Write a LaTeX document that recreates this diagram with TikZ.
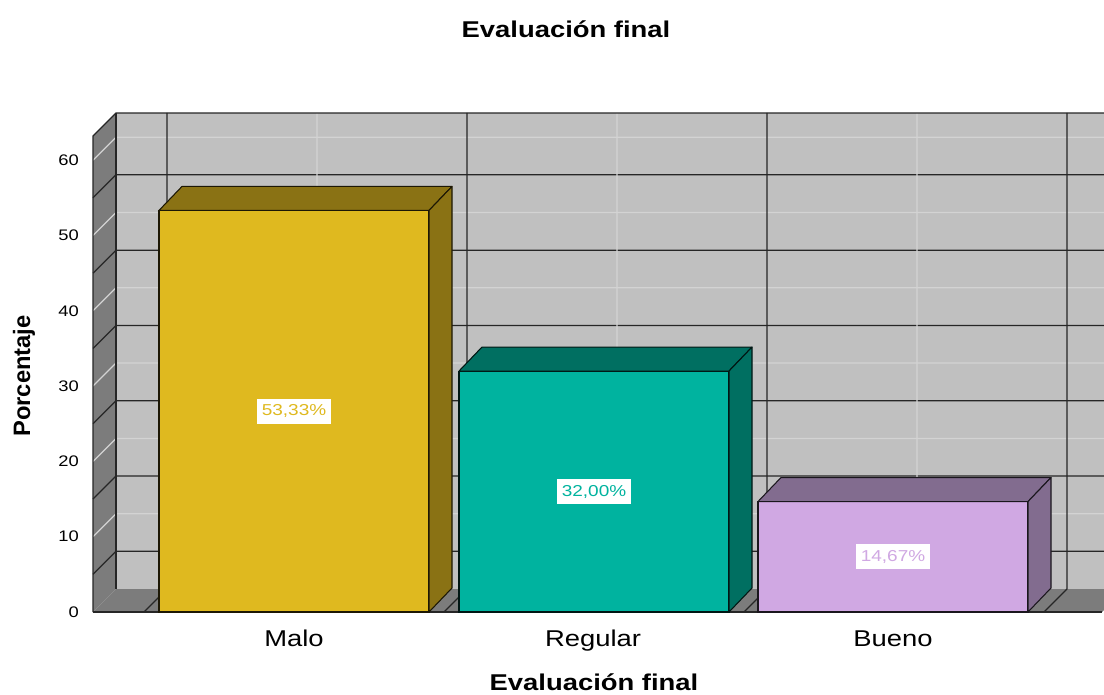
\documentclass[tikz,border=0pt]{standalone}
\usepackage{fontspec}
\setmainfont{Liberation Sans}[FakeStretch=1.2]
\newfontfamily\upfont{Liberation Sans}
\definecolor{backwall}{HTML}{C0C0C0}
\definecolor{sidewall}{HTML}{7C7C7C}
\definecolor{maloF}{HTML}{DFB91F}
\definecolor{maloD}{HTML}{8A7214}
\definecolor{regF}{HTML}{00B39F}
\definecolor{regD}{HTML}{006F61}
\definecolor{buenoF}{HTML}{D0A8E3}
\definecolor{buenoD}{HTML}{826C8F}
\tikzset{
  lightgrid/.style={draw=white!30!backwall, line width=0.7pt},
  darkgrid/.style={draw=black!85, line width=0.7pt},
  ticklabel/.style={anchor=east, font=\fontsize{8.7}{10}\selectfont},
  catlabel/.style={anchor=base, font=\fontsize{13}{15}\selectfont},
  axtitle/.style={font=\fontsize{13}{15}\selectfont\bfseries},
  vallabel/.style={fill=white, inner xsep=2.5pt, inner ysep=3.5pt, font=\fontsize{9}{11}\selectfont}
}
\begin{document}
\begin{tikzpicture}[x=0.02cm, y=-0.02cm]
  \useasboundingbox (0,0) rectangle (1104,695);
  \begin{scope}
    \clip (0,0) rectangle (1104,695);
    % walls and floor
    \fill[backwall] (116,113) rectangle (1125,589);
    \fill[sidewall] (93,136) -- (116,113) -- (116,589) -- (93,612) -- cycle;
    \fill[sidewall] (93,612) -- (116,589) -- (1125,589) -- (1102,612) -- cycle;
    % grid
    \foreach \v in {10,20,...,60} {
      \pgfmathsetmacro\yy{612-7.53*\v}
      \draw[lightgrid] (93,\yy) -- (116,\yy-23) -- (1125,\yy-23);
    }
    \foreach \v in {5,15,...,55} {
      \pgfmathsetmacro\yy{612-7.53*\v}
      \draw[darkgrid] (93,\yy) -- (116,\yy-23) -- (1125,\yy-23);
    }
    \foreach \x in {317,617,917}
      \draw[lightgrid] (\x,113) -- (\x,589) -- (\x-23,612);
    \foreach \x in {167,467,767,1067}
      \draw[darkgrid] (\x,113) -- (\x,589) -- (\x-23,612);
    \draw[black!85, line width=0.7pt] (93,612) -- (93,136) -- (116,113) -- (1125,113);
    \draw[black!85, line width=0.7pt] (116,113) -- (116,589);
    \draw[black!85, line width=0.7pt] (93,612) -- (1102,612);
    % bars
    \foreach \xl/\v/\fc/\dc/\lab/\n in {159/53.33/maloF/maloD/{53,33\%}/malo,
        459/32/regF/regD/{32,00\%}/regular,
        758/14.67/buenoF/buenoD/{14,67\%}/bueno} {
      \pgfmathsetmacro\yt{612-7.53*\v}
      \pgfmathsetmacro\xr{\xl+270}
      \filldraw[fill=\fc, draw=black!80!\dc, line width=0.6pt] (\xl,612) rectangle (\xr,\yt);
      \filldraw[fill=\dc, draw=black!80!\dc, line width=0.6pt, line join=round]
        (\xl,\yt) -- (\xl+23,\yt-24) -- (\xr+23,\yt-24) -- (\xr,\yt) -- cycle;
      \filldraw[fill=\dc, draw=black!80!\dc, line width=0.6pt, line join=round]
        (\xr,612) -- (\xr,\yt) -- (\xr+23,\yt-24) -- (\xr+23,588) -- cycle;
      \node[vallabel, text=\fc] (val\n) at (\xl+135,{(612+\yt)/2}) {\lab};
    }
  \end{scope}
  % axis labels
  \foreach \v in {0,10,...,60}
    \node[ticklabel] (tick\v) at (85,{612-7.53*\v}) {\v};
  \node[catlabel] (catmalo) at (294,646) {Malo};
  \node[catlabel] (catregular) at (593,646) {Regular};
  \node[catlabel] (catbueno) at (893,646) {Bueno};
  \node[axtitle] (title) at (566,29) {Evaluación final};
  \node[axtitle] (xtitle) at (594,682) {Evaluación final};
  \node[font=\upfont\fontsize{13.5}{16}\selectfont\bfseries, rotate=90] (ytitle) at (24,376) {Porcentaje};
\end{tikzpicture}
\end{document}
